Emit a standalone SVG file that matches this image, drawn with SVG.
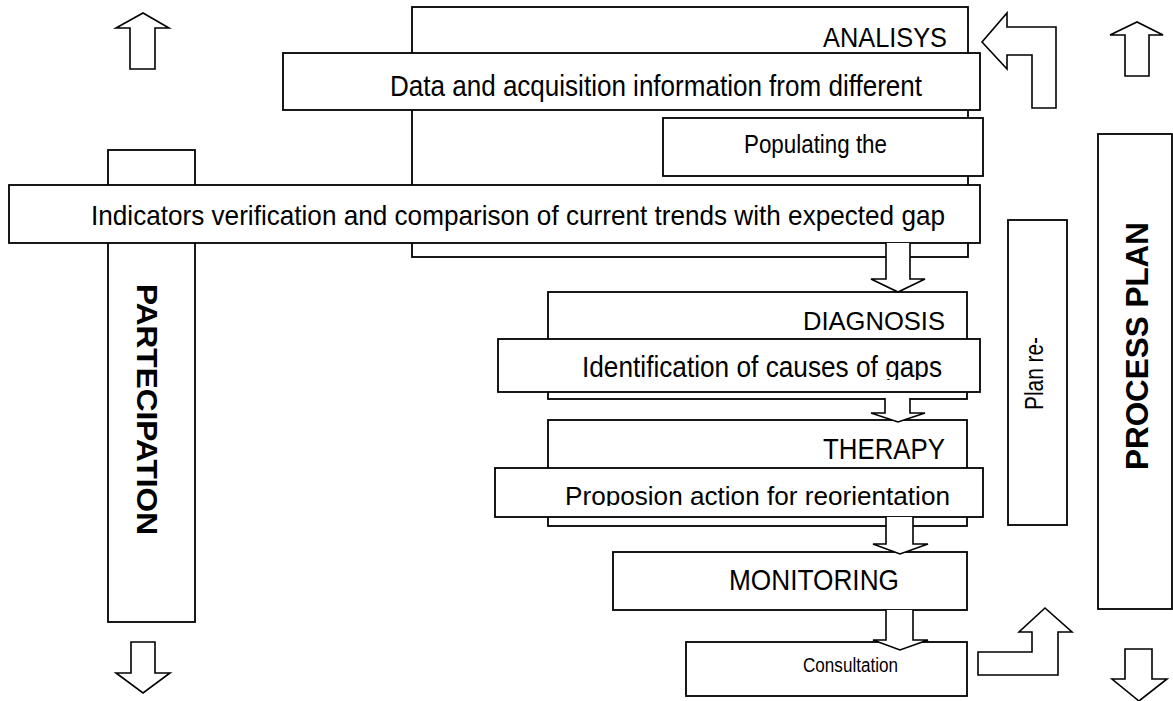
<svg xmlns="http://www.w3.org/2000/svg" width="1173" height="701" viewBox="0 0 1173 701">
<style>
.box{fill:#fff;stroke:#000;stroke-width:1.8}
.arr{fill:#fff;stroke:#000;stroke-width:1.6;stroke-linejoin:miter}
text{font-family:"Liberation Sans Narrow","Liberation Sans",Arial,sans-serif;fill:#000}
.b{font-weight:bold}
</style>
<defs>
<clipPath id="clipIdent"><rect x="498" y="339" width="482" height="41"/></clipPath>
<clipPath id="clipProp"><rect x="495" y="468" width="488" height="38"/></clipPath>
</defs>
<rect width="1173" height="701" fill="#fff"/>

<g id="participation">
<rect class="box" x="108" y="150" width="87" height="472"/>
<text class="b" font-size="29" transform="translate(137,284) rotate(90)" textLength="251" lengthAdjust="spacingAndGlyphs">PARTECIPATION</text>
</g>

<g id="analisys">
<rect class="box" x="412" y="7" width="556" height="250"/>
<text font-size="27" x="823" y="47" textLength="124" lengthAdjust="spacingAndGlyphs">ANALISYS</text>
</g>

<g id="data">
<rect class="box" x="283" y="53" width="697" height="57"/>
<text font-size="30" x="390" y="96" textLength="532" lengthAdjust="spacingAndGlyphs">Data and acquisition information from different</text>
</g>

<g id="populating">
<rect class="box" x="663" y="118" width="320" height="58"/>
<text font-size="25" x="744" y="153" textLength="143" lengthAdjust="spacingAndGlyphs">Populating the</text>
</g>

<g id="indicators">
<rect class="box" x="9" y="185" width="971" height="58"/>
<text font-size="28" x="91" y="225" textLength="854" lengthAdjust="spacingAndGlyphs">Indicators verification and comparison of current trends with expected gap</text>
</g>

<g id="diagnosis">
<rect class="box" x="548" y="292" width="419" height="107"/>
<text font-size="25" x="803" y="330" textLength="142" lengthAdjust="spacingAndGlyphs">DIAGNOSIS</text>
</g>

<g id="identification">
<rect class="box" x="498" y="339" width="482" height="53"/>
<text font-size="30" x="582" y="377" textLength="360" lengthAdjust="spacingAndGlyphs" clip-path="url(#clipIdent)">Identification of causes of gaps</text>
</g>

<g id="therapy">
<rect class="box" x="548" y="420" width="419" height="106"/>
<text font-size="29" x="823" y="459" textLength="122" lengthAdjust="spacingAndGlyphs">THERAPY</text>
</g>

<g id="proposion">
<rect class="box" x="495" y="468" width="488" height="49"/>
<text font-size="25" x="565" y="505" textLength="385" lengthAdjust="spacingAndGlyphs" clip-path="url(#clipProp)">Proposion action for reorientation</text>
</g>

<g id="monitoring">
<rect class="box" x="613" y="552" width="354" height="58"/>
<text font-size="30" x="729" y="590" textLength="170" lengthAdjust="spacingAndGlyphs">MONITORING</text>
</g>

<g id="consultation">
<rect class="box" x="686" y="642" width="281" height="54"/>
<text font-size="20" x="803" y="672" textLength="95" lengthAdjust="spacingAndGlyphs">Consultation</text>
</g>

<g id="plan-re">
<rect class="box" x="1008" y="220" width="59" height="305"/>
<text font-size="25" transform="translate(1043,410) rotate(-90)" textLength="73" lengthAdjust="spacingAndGlyphs">Plan re-</text>
</g>

<g id="process-plan">
<rect class="box" x="1098" y="134" width="74" height="475"/>
<text class="b" font-size="32" transform="translate(1148,470) rotate(-90)" textLength="248" lengthAdjust="spacingAndGlyphs">PROCESS PLAN</text>
</g>

<g id="connectors">
<path class="arr" d="M130,69 L130,28 L116,28 L143,13 L169,28 L155,28 L155,69 Z"/>
<path class="arr" d="M131,642 L131,673 L116,673 L143,693 L170,673 L155,673 L155,642 Z"/>
<path class="arr" d="M1125,76 L1125,35 L1110,35 L1137,22 L1163,35 L1149,35 L1149,76 Z"/>
<path class="arr" d="M1125,649 L1125,679 L1112,679 L1139,701 L1167,679 L1152,679 L1152,649 Z"/>
<path class="arr" d="M982,42 L1007,13 L1007,27 L1056,27 L1056,108 L1032,108 L1032,55 L1007,55 L1007,69 Z"/>
<path class="arr" d="M978,652 L1032,652 L1032,632 L1019,632 L1045,608 L1072,632 L1058,632 L1058,675 L978,675 Z"/>
<path class="arr" d="M886,243 L886,279 L871,279 L898,292 L925,279 L910,279 L910,243"/>
<path class="arr" d="M885,398 L885,413 L871,413 L898,422 L925,413 L910,413 L910,398"/>
<path class="arr" d="M886,517 L886,544 L873,544 L900,554 L928,544 L913,544 L913,517"/>
<path class="arr" d="M886,610 L886,640 L873,640 L900,650 L928,640 L913,640 L913,610"/>
</g>
</svg>
